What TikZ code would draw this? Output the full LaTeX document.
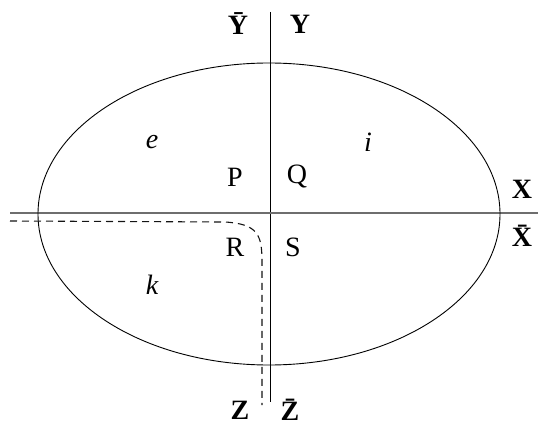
\documentclass[tikz,border=0pt]{standalone}
\usepackage{fontspec}
\setmainfont{Liberation Serif}
\usetikzlibrary{positioning}
\definecolor{axisGray}{RGB}{110,110,110}
\definecolor{dashGray}{RGB}{20,20,20}
\begin{document}
\begin{tikzpicture}[
      x=1pt, y=-1pt,
      lbl/.style={font=\fontsize{28}{30}\selectfont, inner sep=0pt},
      axlbl/.style={font=\fontsize{28}{30}\selectfont\bfseries, inner sep=0pt},
      region/.style={font=\fontsize{28}{30}\selectfont\itshape, inner sep=0pt},
    ]
      \useasboundingbox (0,0) rectangle (545,430);

      % axes and ellipse
      \coordinate (top) at (270,12);
      \coordinate (bot) at (270,402);
      \coordinate (west) at (10,213);
      \coordinate (east) at (538,213);
      \draw[black, line width=1pt] (top) -- (bot);
      \draw[axisGray, line width=1.5pt] (west) -- (east);
      \draw[black, line width=0.9pt] (269,214) ellipse [x radius=231, y radius=151];

      % dashed boundary
      \coordinate (dstart) at (10,221);
      \coordinate (dend) at (262,405);
      \draw[dashGray, dash pattern=on 7pt off 5pt, line width=1.1pt] (dstart) -- (225,222)
        .. controls (258,224) and (262,235) .. (262,262) -- (dend);

      % labels
      \node[axlbl] (ybar) at (238,24) {\=Y};
      \node[axlbl] (y)    at (300,24) {Y};
      \node[axlbl] (x)    at (522,189) {X};
      \node[axlbl] (xbar) at (522,236) {\=X};
      \node[axlbl] (z)    at (240,410) {Z};
      \node[axlbl] (zbar) at (290,410) {\=Z};

      \node[region] (e) at (152,142) {e};
      \node[region] (i) at (368,142) {i};
      \node[region] (k) at (152,285) {k};

      \node[lbl] (p) at (235,177) {P};
      \node[lbl] (q) at (297,177) {Q};
      \node[lbl] (r) at (235,247) {R};
      \node[lbl] (s) at (293,247) {S};
    \end{tikzpicture}
\end{document}
